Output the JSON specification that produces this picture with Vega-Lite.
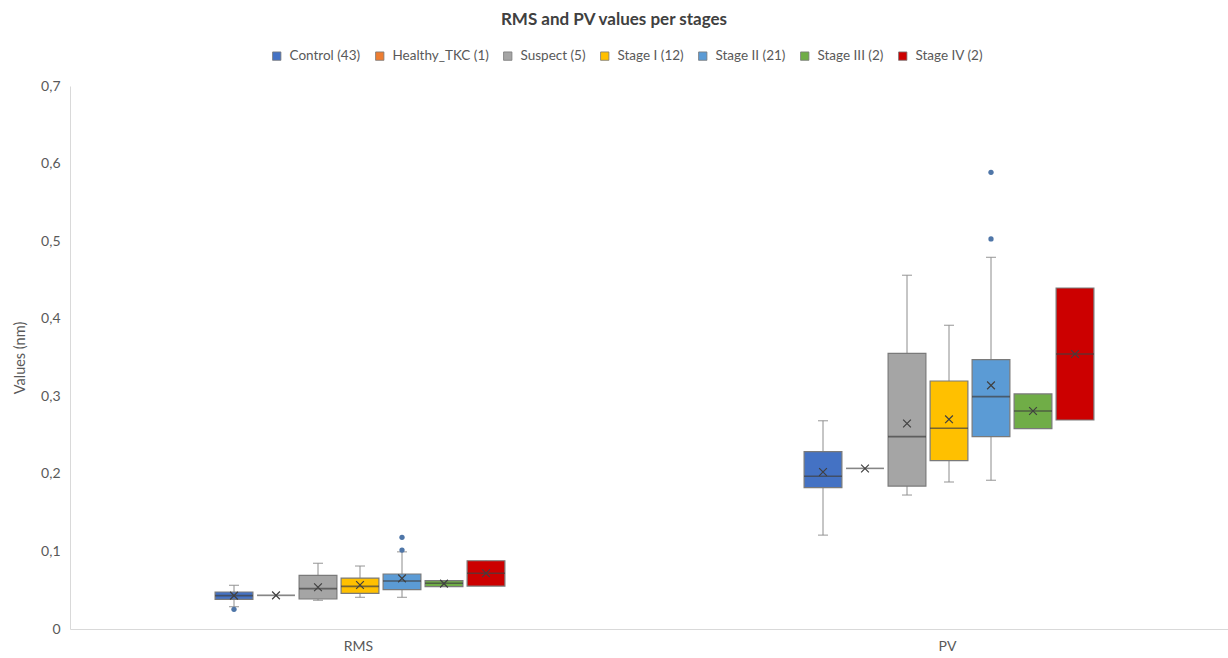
{
  "$schema": "https://vega.github.io/schema/vega-lite/v6.json",
  "width": 1158,
  "height": 543,
  "autosize": {"type": "none"},
  "padding": {"left": 70, "top": 86, "right": 0, "bottom": 29},
  "background": "white",
  "title": {
    "text": "RMS and PV values per stages",
    "font": "Lato",
    "fontSize": 17,
    "fontWeight": "bold",
    "color": "#404040",
    "anchor": "middle",
    "frame": "group",
    "dx": -35,
    "offset": 20
  },
  "datasets": {
    "stats": [
      {"category": "RMS", "group": "Control (43)", "min": 0.0288, "q1": 0.0383, "median": 0.043, "q3": 0.0477, "max": 0.0563, "mean": 0.043},
      {"category": "RMS", "group": "Healthy_TKC (1)", "min": 0.0434, "q1": 0.0434, "median": 0.0434, "q3": 0.0434, "max": 0.0434, "mean": 0.0434},
      {"category": "RMS", "group": "Suspect (5)", "min": 0.037, "q1": 0.0387, "median": 0.052, "q3": 0.0692, "max": 0.0847, "mean": 0.0538},
      {"category": "RMS", "group": "Stage I (12)", "min": 0.0408, "q1": 0.046, "median": 0.055, "q3": 0.0657, "max": 0.0812, "mean": 0.0567},
      {"category": "RMS", "group": "Stage II (21)", "min": 0.0408, "q1": 0.0507, "median": 0.0619, "q3": 0.0709, "max": 0.0995, "mean": 0.0653},
      {"category": "RMS", "group": "Stage III (2)", "min": 0.0546, "q1": 0.0546, "median": 0.0589, "q3": 0.0623, "max": 0.0623, "mean": 0.0585},
      {"category": "RMS", "group": "Stage IV (2)", "min": 0.0554, "q1": 0.0554, "median": 0.0718, "q3": 0.088, "max": 0.088, "mean": 0.0718},
      {"category": "PV", "group": "Control (43)", "min": 0.121, "q1": 0.1822, "median": 0.197, "q3": 0.2286, "max": 0.2685, "mean": 0.2024},
      {"category": "PV", "group": "Healthy_TKC (1)", "min": 0.207, "q1": 0.207, "median": 0.207, "q3": 0.207, "max": 0.207, "mean": 0.207},
      {"category": "PV", "group": "Suspect (5)", "min": 0.1727, "q1": 0.1843, "median": 0.248, "q3": 0.3554, "max": 0.456, "mean": 0.265},
      {"category": "PV", "group": "Stage I (12)", "min": 0.1895, "q1": 0.217, "median": 0.2587, "q3": 0.3197, "max": 0.3915, "mean": 0.2703},
      {"category": "PV", "group": "Stage II (21)", "min": 0.1917, "q1": 0.248, "median": 0.2995, "q3": 0.3472, "max": 0.4791, "mean": 0.3141},
      {"category": "PV", "group": "Stage III (2)", "min": 0.2583, "q1": 0.2583, "median": 0.281, "q3": 0.303, "max": 0.303, "mean": 0.281},
      {"category": "PV", "group": "Stage IV (2)", "min": 0.2694, "q1": 0.2694, "median": 0.3545, "q3": 0.4396, "max": 0.4396, "mean": 0.3545}
    ],
    "outliers": [
      {"category": "RMS", "group": "Control (43)", "value": 0.0254},
      {"category": "RMS", "group": "Stage II (21)", "value": 0.1182},
      {"category": "RMS", "group": "Stage II (21)", "value": 0.1018},
      {"category": "PV", "group": "Stage II (21)", "value": 0.5887},
      {"category": "PV", "group": "Stage II (21)", "value": 0.5028}
    ]
  },
  "encoding": {
    "x": {
      "field": "category",
      "type": "nominal",
      "sort": ["RMS", "PV"],
      "scale": {"domain": ["RMS", "PV"], "range": [0, 1178], "paddingInner": 0, "paddingOuter": 0},
      "axis": {
        "title": null,
        "labelAngle": 0,
        "ticks": false,
        "domainColor": "#d9d9d9",
        "domainWidth": 1,
        "labelFont": "Lato",
        "labelFontSize": 14,
        "labelColor": "#595959",
        "labelPadding": 10,
        "labelOffset": -6
      }
    },
    "xOffset": {
      "field": "group",
      "type": "nominal",
      "scale": {
        "domain": ["Control (43)", "Healthy_TKC (1)", "Suspect (5)", "Stage I (12)", "Stage II (21)", "Stage III (2)", "Stage IV (2)"],
        "range": [143, 437],
        "paddingInner": 0.1,
        "paddingOuter": 0.05
      }
    }
  },
  "layer": [
    {
      "data": {"name": "stats"},
      "mark": {"type": "rule", "color": "#8c8c8c", "strokeWidth": 1},
      "encoding": {
        "y": {
          "field": "min",
          "type": "quantitative",
          "scale": {"domain": [0, 0.7]},
          "axis": {
            "title": "Values (nm)",
            "titleFont": "Lato",
            "titleFontSize": 14.5,
            "titleFontWeight": "normal",
            "titleColor": "#595959",
            "titlePadding": 13,
            "values": [0, 0.1, 0.2, 0.3, 0.4, 0.5, 0.6, 0.7],
            "labelExpr": "datum.value == 0 ? '0' : replace(format(datum.value, '.1f'), '.', ',')",
            "labelFont": "Lato",
            "labelFontSize": 14,
            "labelColor": "#595959",
            "labelPadding": 10,
            "ticks": false,
            "grid": false,
            "domainColor": "#d9d9d9"
          }
        },
        "y2": {"field": "max"}
      }
    },
    {
      "data": {"name": "stats"},
      "transform": [{"filter": "datum.min < datum.q1"}],
      "mark": {"type": "tick", "color": "#8c8c8c", "size": 10, "thickness": 1.3},
      "encoding": {"y": {"field": "min", "type": "quantitative"}}
    },
    {
      "data": {"name": "stats"},
      "transform": [{"filter": "datum.max > datum.q3"}],
      "mark": {"type": "tick", "color": "#8c8c8c", "size": 10, "thickness": 1.3},
      "encoding": {"y": {"field": "max", "type": "quantitative"}}
    },
    {
      "data": {"name": "stats"},
      "mark": {"type": "bar", "stroke": "#7a7a7a", "strokeWidth": 1.2},
      "encoding": {
        "y": {"field": "q1", "type": "quantitative"},
        "y2": {"field": "q3"},
        "color": {
          "field": "group",
          "type": "nominal",
          "scale": {
            "domain": ["Control (43)", "Healthy_TKC (1)", "Suspect (5)", "Stage I (12)", "Stage II (21)", "Stage III (2)", "Stage IV (2)"],
            "range": ["#4472C4", "#ED7D31", "#A5A5A5", "#FFC000", "#5B9BD5", "#70AD47", "#CC0000"]
          },
          "legend": {
            "title": null,
            "orient": "none",
            "direction": "horizontal",
            "columns": 7,
            "legendX": 200,
            "legendY": -37,
            "symbolType": "square",
            "symbolSize": 70,
            "symbolStrokeColor": "#7a7a7a",
            "symbolStrokeWidth": 0.8,
            "labelFont": "Lato",
            "labelFontSize": 13.5,
            "labelColor": "#595959",
            "labelOffset": 6,
            "columnPadding": 12
          }
        }
      }
    },
    {
      "data": {"name": "stats"},
      "mark": {"type": "tick", "size": 38, "thickness": 1.6},
      "encoding": {
        "y": {"field": "median", "type": "quantitative"},
        "color": {
          "condition": {"test": "datum.min == datum.max", "value": "#8c8c8c"},
          "value": "#404040"
        }
      }
    },
    {
      "data": {"name": "stats"},
      "mark": {"type": "point", "shape": "M-1,-1L1,1M-1,1L1,-1", "filled": false, "stroke": "#404040", "strokeWidth": 1.2, "size": 60, "opacity": 1},
      "encoding": {"y": {"field": "mean", "type": "quantitative"}}
    },
    {
      "data": {"name": "outliers"},
      "mark": {"type": "circle", "color": "#4F76A8", "size": 28, "opacity": 1},
      "encoding": {"y": {"field": "value", "type": "quantitative"}}
    }
  ],
  "config": {
    "view": {"stroke": null},
    "font": "Lato"
  }
}
